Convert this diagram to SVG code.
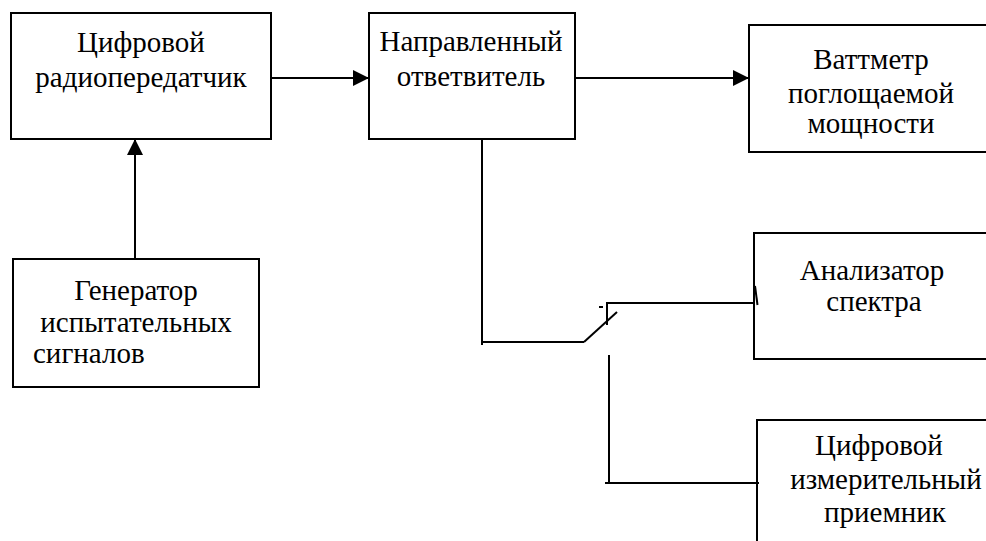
<svg xmlns="http://www.w3.org/2000/svg" width="986" height="541" viewBox="0 0 986 541">
<style>
.box{fill:#fff;stroke:#000;stroke-width:2}
.t{font-family:"Liberation Serif","DejaVu Serif",serif;font-size:29px;fill:#000}
.c{text-anchor:middle}
.ln{fill:none;stroke:#000;stroke-width:2}
</style>
<defs>
<marker id="arr" markerUnits="userSpaceOnUse" markerWidth="16" markerHeight="16" refX="16" refY="8" orient="auto">
<path d="M0,0 L16,8 L0,16 z" fill="#000"/>
</marker>
</defs>
<rect width="986" height="541" fill="#fff"/>
<g id="transmitter">
<rect class="box" x="11" y="13" width="260" height="126"/>
<text class="t c" x="141" y="52">Цифровой</text>
<text class="t c" x="141" y="87">радиопередатчик</text>
</g>
<g id="coupler">
<rect class="box" x="369" y="13" width="206" height="126"/>
<text class="t c" x="471" y="51">Направленный</text>
<text class="t c" x="471" y="86">ответвитель</text>
</g>
<g id="wattmeter">
<rect class="box" x="749" y="25" width="245" height="127"/>
<text class="t c" x="871" y="69">Ваттметр</text>
<text class="t c" x="871" y="103">поглощаемой</text>
<text class="t c" x="871" y="133">мощности</text>
</g>
<g id="generator">
<rect class="box" x="13" y="259" width="246" height="128"/>
<text class="t c" x="136" y="300">Генератор</text>
<text class="t c" x="136" y="332">испытательных</text>
<text class="t" x="33" y="363">сигналов</text>
</g>
<g id="analyzer">
<rect class="box" x="754" y="233" width="245" height="126"/>
<text class="t c" x="872" y="280">Анализатор</text>
<text class="t c" x="874" y="311">спектра</text>
</g>
<g id="receiver">
<rect class="box" x="757" y="420" width="260" height="140"/>
<text class="t c" x="879" y="455">Цифровой</text>
<text class="t c" x="886" y="489">измерительный</text>
<text class="t c" x="885" y="522">приемник</text>
</g>
<g id="connectors">
<line class="ln" x1="271" y1="78" x2="369" y2="78" marker-end="url(#arr)"/>
<line class="ln" x1="575" y1="78" x2="749" y2="78" marker-end="url(#arr)"/>
<line class="ln" x1="135" y1="259" x2="135" y2="139" marker-end="url(#arr)"/>
<polyline class="ln" points="482,139 482,345"/>
<line class="ln" x1="481" y1="342" x2="584" y2="342"/>
<line class="ln" x1="584" y1="342" x2="617" y2="312"/>
<line class="ln" x1="607" y1="302" x2="607" y2="325"/>
<line class="ln" x1="606" y1="303" x2="754" y2="303"/>
<line class="ln" x1="599" y1="307" x2="603" y2="307" stroke-width="1.5"/>
<line class="ln" x1="755" y1="286" x2="757.5" y2="305"/>
<polyline class="ln" points="609,355 609,483"/>
<line class="ln" x1="605" y1="483" x2="759" y2="483"/>
</g>
</svg>
